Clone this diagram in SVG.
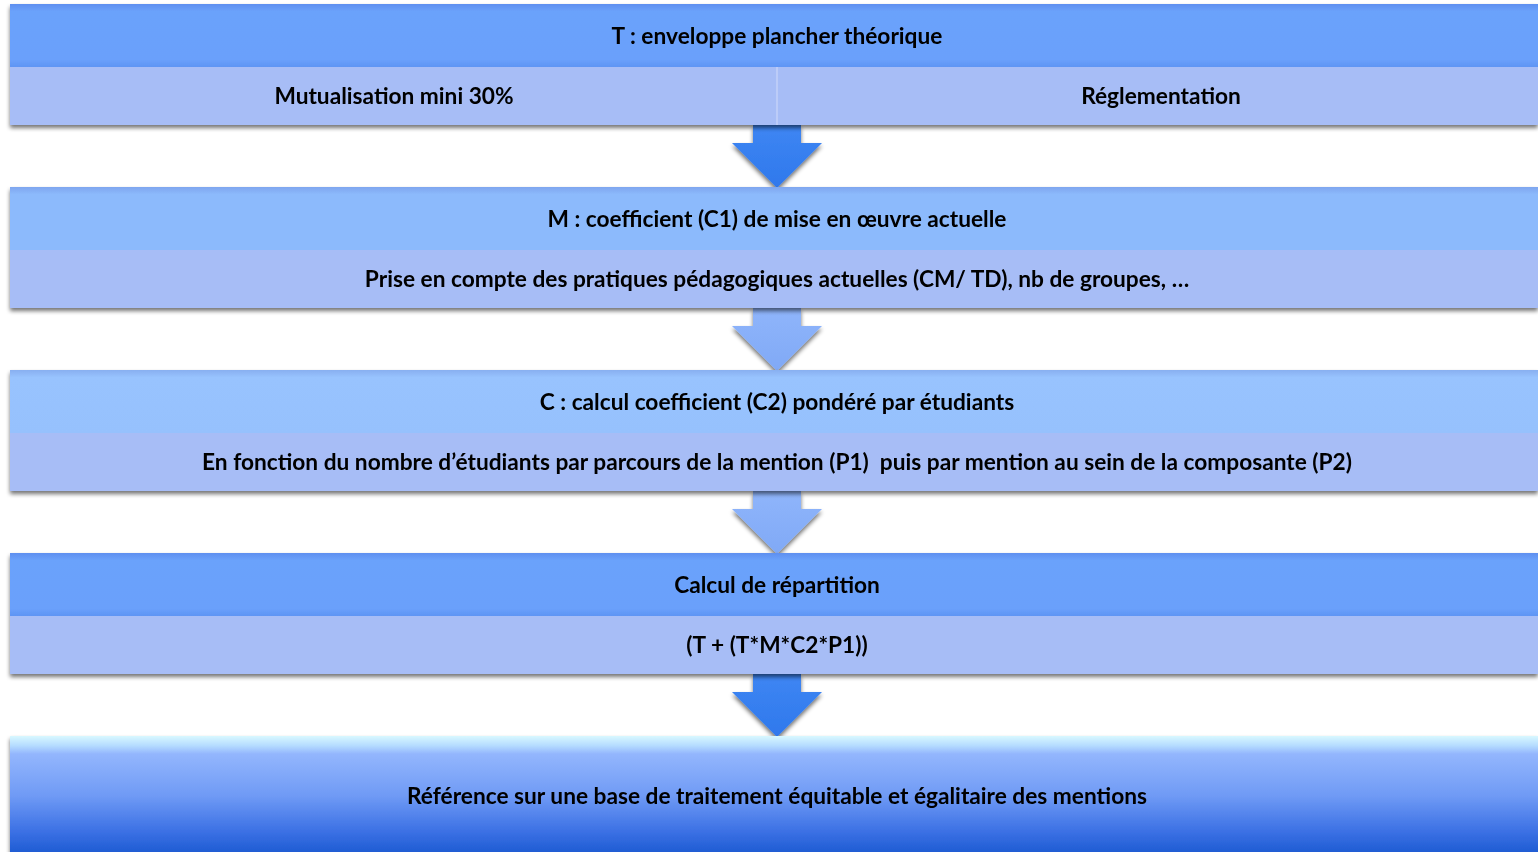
<svg xmlns="http://www.w3.org/2000/svg" width="1538" height="852" viewBox="0 0 1538 852">
<style>
.t{font-family:Lato,"Open Sans","Liberation Sans",sans-serif;font-weight:bold;font-size:22.7px;fill:#000;text-anchor:middle;white-space:pre}
.sub{fill:#a7bdf6}
.hdark{fill:url(#gDark)}
.hlight{fill:url(#gLight)}
.hlight2{fill:url(#gLight2)}
</style>
<defs>
<filter id="sh" x="-5%" y="-20%" width="110%" height="150%">
<feGaussianBlur in="SourceAlpha" stdDeviation="2"/>
<feOffset dx="0" dy="3"/>
<feComponentTransfer><feFuncA type="linear" slope="0.55"/></feComponentTransfer>
<feMerge><feMergeNode/><feMergeNode in="SourceGraphic"/></feMerge>
</filter>
<linearGradient id="gDark" x1="0" y1="0" x2="0" y2="1">
<stop offset="0" stop-color="#5f8ff0"/><stop offset="0.12" stop-color="#6ba2fb"/><stop offset="0.88" stop-color="#6aa0fb"/><stop offset="1" stop-color="#5f95f4"/>
</linearGradient>
<linearGradient id="gLight" x1="0" y1="0" x2="0" y2="1">
<stop offset="0" stop-color="#7fa6ef"/><stop offset="0.12" stop-color="#8cbafc"/><stop offset="1" stop-color="#8cbafc"/>
</linearGradient>
<linearGradient id="gLight2" x1="0" y1="0" x2="0" y2="1">
<stop offset="0" stop-color="#88aff0"/><stop offset="0.12" stop-color="#98c3fe"/><stop offset="1" stop-color="#96c1fd"/>
</linearGradient>
<linearGradient id="gFinal" x1="0" y1="0" x2="0" y2="1">
<stop offset="0" stop-color="#d8f8ff"/><stop offset="0.08" stop-color="#b5dcff"/><stop offset="0.15" stop-color="#93b6fd"/><stop offset="0.5" stop-color="#6f9af5"/><stop offset="0.8" stop-color="#3b70e4"/><stop offset="1" stop-color="#1a59d0"/>
</linearGradient>
<linearGradient id="gArrowDark" x1="0" y1="0" x2="0" y2="1">
<stop offset="0" stop-color="#3e86f3"/><stop offset="1" stop-color="#2f78ec"/>
</linearGradient>
<linearGradient id="gArrowLight" x1="0" y1="0" x2="0" y2="1">
<stop offset="0" stop-color="#8fb5fb"/><stop offset="1" stop-color="#80a9f6"/>
</linearGradient>
<path id="arr" d="M-24,0 H24 V18 H45 L0,63 L-45,18 H-24 Z"/>
</defs>
<rect width="1538" height="852" fill="#fff"/>

<g id="connectors">
<use href="#arr" x="777" y="125" fill="url(#gArrowDark)" filter="url(#sh)"/>
<use href="#arr" x="777" y="308" fill="url(#gArrowLight)" filter="url(#sh)"/>
<use href="#arr" x="777" y="491" fill="url(#gArrowLight)" filter="url(#sh)"/>
<use href="#arr" x="777" y="674" fill="url(#gArrowDark)" filter="url(#sh)"/>
</g>

<g id="node-T" filter="url(#sh)">
<rect x="10" y="4" width="1528" height="63" class="hdark"/>
<rect x="10" y="67" width="1528" height="58" class="sub"/>
<line x1="777" y1="67" x2="777" y2="125" stroke="#c3d2f8" stroke-width="1.5"/>
<text x="777" y="44" class="t">T : enveloppe plancher théorique</text>
<text x="394" y="104" class="t">Mutualisation mini 30%</text>
<text x="1161" y="104" class="t">Réglementation</text>
</g>

<g id="node-M" filter="url(#sh)">
<rect x="10" y="187" width="1528" height="63" class="hlight"/>
<rect x="10" y="250" width="1528" height="58" class="sub"/>
<text x="777" y="227" class="t">M : coefficient (C1) de mise en œuvre actuelle</text>
<text x="777" y="287" class="t">Prise en compte des pratiques pédagogiques actuelles (CM/ TD), nb de groupes, …</text>
</g>

<g id="node-C" filter="url(#sh)">
<rect x="10" y="370" width="1528" height="63" class="hlight2"/>
<rect x="10" y="433" width="1528" height="58" class="sub"/>
<text x="777" y="410" class="t">C : calcul coefficient (C2) pondéré par étudiants</text>
<text x="777" y="470" class="t">En fonction du nombre d’étudiants par parcours de la mention (P1)  puis par mention au sein de la composante (P2)</text>
</g>

<g id="node-R" filter="url(#sh)">
<rect x="10" y="553" width="1528" height="63" class="hdark"/>
<rect x="10" y="616" width="1528" height="58" class="sub"/>
<text x="777" y="593" class="t">Calcul de répartition</text>
<text x="777" y="653" class="t">(T + (T*M*C2*P1))</text>
</g>

<g id="node-F" filter="url(#sh)">
<rect x="10" y="736" width="1528" height="120" fill="url(#gFinal)"/>
<text x="777" y="804" class="t">Référence sur une base de traitement équitable et égalitaire des mentions</text>
</g>
</svg>
